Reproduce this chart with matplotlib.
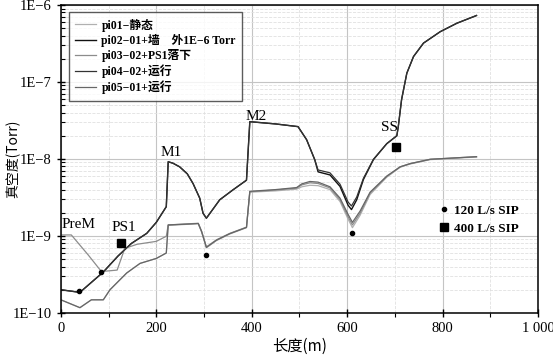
import matplotlib
matplotlib.use("Agg")
import matplotlib.pyplot as plt
from matplotlib.ticker import FixedLocator, LogLocator, NullFormatter, MultipleLocator

SERIF = ['Liberation Serif', 'Noto Sans CJK SC', 'DejaVu Sans']
plt.rcParams['font.family'] = SERIF
plt.rcParams['axes.unicode_minus'] = True

# --- data ---
series_names = ['pi01−静态', 'pi02−01+墙　外1E−6 Torr', 'pi03−02+PS1落下',
                'pi04−02+运行', 'pi05−01+运行']

x_upper = [0, 40, 89, 120, 148, 180, 200, 221, 225, 235, 249, 265, 277, 291, 298, 305,
           333, 361, 389, 396, 450, 497, 515, 532, 539, 564, 585, 602, 609, 620, 634,
           655, 683, 704, 707, 714, 725, 739, 760, 795, 830, 871]
y_pi02 = [2.0e-10, 1.85e-10, 3.4e-10, 5.5e-10, 8.0e-10, 1.08e-9, 1.5e-9, 2.4e-9, 9.2e-9,
          8.8e-9, 7.9e-9, 6.4e-9, 4.8e-9, 3.1e-9, 1.97e-9, 1.7e-9,
          2.95e-9, 3.98e-9, 5.3e-9, 3.05e-8, 2.85e-8, 2.63e-8, 1.78e-8, 9.8e-9, 6.8e-9,
          6.2e-9, 4.4e-9, 2.5e-9, 2.2e-9, 2.95e-9, 5.4e-9,
          9.8e-9, 1.58e-8, 2.0e-8, 2.6e-8, 5.9e-8, 1.3e-7, 2.14e-7, 3.2e-7, 4.5e-7, 5.8e-7, 7.3e-7]
y_pi04 = [2.0e-10, 1.85e-10, 3.4e-10, 5.5e-10, 8.0e-10, 1.08e-9, 1.5e-9, 2.4e-9, 9.2e-9,
          8.8e-9, 7.9e-9, 6.4e-9, 4.8e-9, 3.1e-9, 1.97e-9, 1.7e-9,
          2.95e-9, 3.98e-9, 5.3e-9, 3.05e-8, 2.85e-8, 2.63e-8, 1.78e-8, 9.8e-9, 7.2e-9,
          6.6e-9, 4.7e-9, 2.75e-9, 2.45e-9, 3.2e-9, 5.6e-9,
          9.9e-9, 1.58e-8, 2.0e-8, 2.6e-8, 5.9e-8, 1.3e-7, 2.14e-7, 3.2e-7, 4.5e-7, 5.8e-7, 7.3e-7]

x_prem = [0, 22, 57, 85, 118, 134, 160, 200, 221, 225, 260, 288, 295, 305, 326, 354, 389,
          396, 450, 494, 505, 522, 539, 564, 585, 602, 611, 627, 648, 683, 711, 732, 774, 871]
y_pi03 = [1.03e-9, 1.03e-9, 5.7e-10, 3.45e-10, 3.6e-10, 6.9e-10, 7.8e-10, 8.5e-10, 9.9e-10,
          1.39e-9, 1.43e-9, 1.46e-9, 1.15e-9, 7.2e-10, 8.9e-10, 1.08e-9, 1.3e-9,
          3.76e-9, 3.95e-9, 4.17e-9, 4.6e-9, 4.9e-9, 4.8e-9, 4.2e-9, 2.95e-9, 1.77e-9,
          1.39e-9, 1.97e-9, 3.6e-9, 5.9e-9, 7.9e-9, 8.7e-9, 9.9e-9, 1.07e-8]

x_low = [0, 40, 64, 89, 103, 138, 166, 200, 221, 225, 260, 288, 295, 305, 326, 354, 389,
         396, 450, 494, 505, 522, 539, 564, 585, 602, 611, 627, 648, 683, 711, 732, 774, 871]
y_pi01 = [1.48e-10, 1.17e-10, 1.48e-10, 1.48e-10, 2.0e-10, 3.3e-10, 4.4e-10, 5.1e-10, 6.0e-10,
          1.37e-9, 1.41e-9, 1.44e-9, 1.12e-9, 7.0e-10, 8.7e-10, 1.06e-9, 1.28e-9,
          3.7e-9, 3.85e-9, 4.05e-9, 4.35e-9, 4.55e-9, 4.5e-9, 4.0e-9, 2.8e-9, 1.65e-9,
          1.28e-9, 1.85e-9, 3.45e-9, 5.8e-9, 7.8e-9, 8.6e-9, 9.8e-9, 1.06e-8]
y_pi05 = [1.48e-10, 1.17e-10, 1.48e-10, 1.48e-10, 2.0e-10, 3.3e-10, 4.4e-10, 5.1e-10, 6.0e-10,
          1.39e-9, 1.42e-9, 1.45e-9, 1.14e-9, 7.1e-10, 8.8e-10, 1.07e-9, 1.29e-9,
          3.8e-9, 4.0e-9, 4.25e-9, 4.75e-9, 5.1e-9, 5.0e-9, 4.35e-9, 3.1e-9, 1.9e-9,
          1.5e-9, 2.1e-9, 3.7e-9, 6.0e-9, 7.9e-9, 8.7e-9, 9.9e-9, 1.07e-8]

# pump positions
sip120_x = [38, 85, 305, 611]
sip120_y = [1.95e-10, 3.45e-10, 5.7e-10, 1.08e-9]
sip400_x = [126, 702]
sip400_y = [8.2e-10, 1.45e-8]

labels_txt = ['PreM', 'PS1', 'M1', 'M2', 'SS']
labels_x = [38, 131, 231, 409, 688]
labels_y = [1.39e-9, 1.27e-9, 1.2e-8, 3.6e-8, 2.53e-8]

xticks = [0, 200, 400, 600, 800, 1000]
xtick_labels = ['0', '200', '400', '600', '800', '1 000']
yticks = [1e-10, 1e-9, 1e-8, 1e-7, 1e-6]
ytick_labels = ['1E−10', '1E−9', '1E−8', '1E−7', '1E−6']

# --- plot ---
fig = plt.figure(figsize=(5.53, 3.56), dpi=100)
ax = fig.add_axes([0.110, 0.121, 0.863, 0.865])
ax.set_yscale('log')

ax.plot(x_low, y_pi01, color='#b0b0b0', lw=0.9, label=series_names[0])
ax.plot(x_upper, y_pi02, color='#111111', lw=1.0, label=series_names[1])
ax.plot(x_prem, y_pi03, color='#8c8c8c', lw=0.9, label=series_names[2])
ax.plot(x_upper, y_pi04, color='#333333', lw=0.9, label=series_names[3])
ax.plot(x_low, y_pi05, color='#666666', lw=0.9, label=series_names[4])

leg1 = ax.legend(loc='upper left', bbox_to_anchor=(0.017, 0.977), borderaxespad=0,
                 frameon=True, fancybox=False, edgecolor='#333333', handlelength=1.7,
                 handletextpad=0.5,
                 prop={'family': SERIF, 'weight': 'bold', 'size': 8.5},
                 labelspacing=0.2, borderpad=0.55)
leg1.get_frame().set_linewidth(1.0)
ax.add_artist(leg1)

p1, = ax.plot(sip120_x, sip120_y, 'o', color='black', ms=3, ls='none')
p2, = ax.plot(sip400_x, sip400_y, 's', color='black', ms=6, ls='none')
ax.legend([p1, p2], ['120 L/s SIP', '400 L/s SIP'], loc='lower right',
          bbox_to_anchor=(0.985, 0.215), frameon=False, handlelength=0.8,
          handletextpad=0.4, labelspacing=0.45,
          prop={'family': SERIF, 'weight': 'bold', 'size': 9.5})

for t, xx, yy in zip(labels_txt, labels_x, labels_y):
    ax.text(xx, yy, t, ha='center', va='center', fontsize=11, family=SERIF)

ax.set_xlim(0, 1000)
ax.set_ylim(1e-10, 1e-6)
ax.xaxis.set_major_locator(FixedLocator(xticks))
ax.set_xticklabels(xtick_labels)
ax.xaxis.set_minor_locator(MultipleLocator(100))
ax.set_yticks(yticks)
ax.set_yticklabels(ytick_labels)
ax.yaxis.set_minor_locator(LogLocator(base=10, subs=range(2, 10)))
ax.yaxis.set_minor_formatter(NullFormatter())

ax.tick_params(axis='both', which='major', labelsize=10.5, direction='inout', length=6, width=1)
ax.tick_params(axis='y', which='minor', direction='in', length=3, width=0.8)
ax.tick_params(axis='x', which='minor', direction='out', length=3, width=0.8)
for s in ax.spines.values():
    s.set_linewidth(1.1)

ax.grid(True, which='major', color='#c4c4c4', lw=0.8)
ax.grid(True, which='minor', color='#e0e0e0', lw=0.6, ls='--')
ax.set_axisbelow(True)

ax.set_xlabel('长度(m)', fontsize=11, family=['Noto Sans CJK SC', 'DejaVu Sans'], labelpad=2)
ax.set_ylabel('真空度(Torr)', fontsize=10, family=['Noto Sans CJK SC', 'DejaVu Sans'])
ax.yaxis.set_label_coords(-0.085, 0.5)

fig.savefig('out.png', dpi=100)
